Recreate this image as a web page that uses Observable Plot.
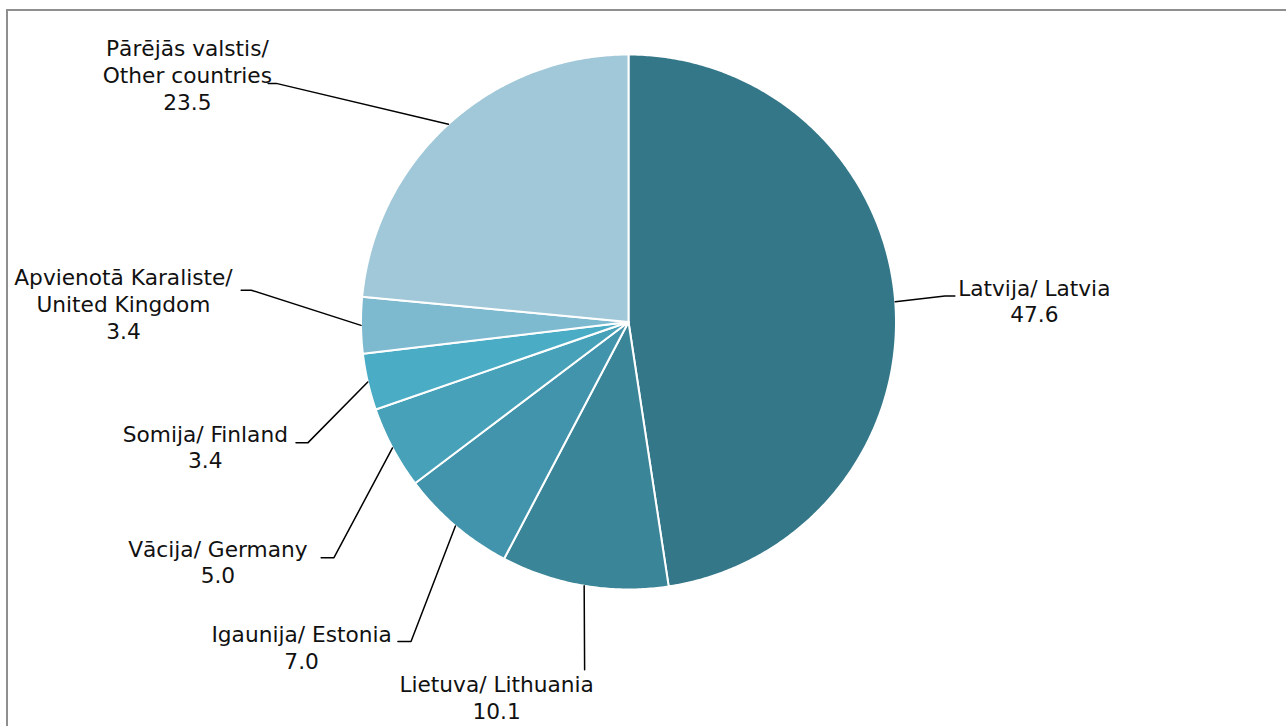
<!DOCTYPE html>
<html>
<head>
<meta charset="utf-8">
<script src="https://cdn.jsdelivr.net/npm/d3@7"></script>
<script src="https://cdn.jsdelivr.net/npm/@observablehq/plot@0.6"></script>
<style>
  html, body { margin: 0; padding: 0; background: #fff; overflow: hidden; }
  #wrap { position: relative; width: 1286px; height: 726px; }
  #frame { position: absolute; left: 6px; top: 9px; width: 1300px; height: 740px;
           border-left: 2px solid #8f8f8f; border-top: 2px solid #8f8f8f; }
  #chart { position: absolute; left: 0; top: 0; }
</style>
</head>
<body>
<div id="wrap"><div id="frame"></div><div id="chart"></div></div>
<script>
// ---- data ----
const categories = [
  "Latvija/ Latvia",
  "Lietuva/ Lithuania",
  "Igaunija/ Estonia",
  "Vācija/ Germany",
  "Somija/ Finland",
  "Apvienotā Karaliste/ United Kingdom",
  "Pārējās valstis/ Other countries"
];
const labelLines = [
  "Latvija/ Latvia",
  "Lietuva/ Lithuania",
  "Igaunija/ Estonia",
  "Vācija/ Germany",
  "Somija/ Finland",
  "Apvienotā Karaliste/\nUnited Kingdom",
  "Pārējās valstis/\nOther countries"
];
const values = [47.6, 10.1, 7.0, 5.0, 3.4, 3.4, 23.5];
const colors = ["#337789", "#3a8598", "#4194ab", "#47a2b9", "#4aacc5", "#7db9cf", "#a0c8d8"];

// ---- layout (label placement, in radius units; not data) ----
const R = 267.5, CX = 628, CY = 321.5, W = 1286, H = 726;
const labelLayout = [
  {elbow: [1.183, 0.097], end: 1.220, text: [1.517, 0.081]},
  {elbow: [-0.164, -1.300], end: -0.164, text: [-0.493, -1.400]},
  {elbow: [-0.813, -1.194], end: -0.862, text: [-1.222, -1.214]},
  {elbow: [-1.101, -0.881], end: -1.149, text: [-1.535, -0.895]},
  {elbow: [-1.198, -0.451], end: -1.243, text: [-1.582, -0.465]},
  {elbow: [-1.410, 0.119], end: -1.448, text: [-1.888, 0.070]},
  {elbow: [-1.317, 0.892], end: -1.347, text: [-1.649, 0.926]}
];

const total = d3.sum(values);
// angles clockwise from 12 o'clock
let acc = 0;
const slices = categories.map((c, i) => {
  const a0 = acc / total * 2 * Math.PI;
  acc += values[i];
  const a1 = acc / total * 2 * Math.PI;
  return {category: c, value: values[i], a0, a1, mid: (a0 + a1) / 2, i};
});

// polygon points for each wedge
const wedgePts = [];
for (const s of slices) {
  wedgePts.push({category: s.category, x: 0, y: 0});
  const n = Math.max(4, Math.ceil((s.a1 - s.a0) / (Math.PI / 360)));
  for (let k = 0; k <= n; k++) {
    const a = s.a0 + (s.a1 - s.a0) * k / n;
    wedgePts.push({category: s.category, x: Math.sin(a), y: Math.cos(a)});
  }
}

// leader lines
const leaderPts = [];
slices.forEach((s, i) => {
  const L = labelLayout[i];
  leaderPts.push({k: i, x: Math.sin(s.mid), y: Math.cos(s.mid)});
  leaderPts.push({k: i, x: L.elbow[0], y: L.elbow[1]});
  leaderPts.push({k: i, x: L.end, y: L.elbow[1]});
});

const labels = slices.map((s, i) => ({
  text: labelLines[i] + "\n" + values[i].toFixed(1),
  x: labelLayout[i].text[0],
  y: labelLayout[i].text[1]
}));

const chart = Plot.plot({
  width: W,
  height: H,
  margin: 0,
  style: {background: "transparent", overflow: "visible"},
  x: {domain: [-CX / R, (W - CX) / R], axis: null},
  y: {domain: [-(H - CY) / R, CY / R], axis: null},
  color: {domain: categories, range: colors},
  marks: [
    Plot.line(wedgePts, {
      x: "x", y: "y", z: "category", fill: "category",
      stroke: "white", strokeWidth: 2, strokeLinejoin: "round", curve: "linear-closed"
    }),
    Plot.line(leaderPts, {x: "x", y: "y", z: "k", stroke: "black", strokeWidth: 1.5}),
    Plot.text(labels, {
      x: "x", y: "y", text: "text", textAnchor: "middle", lineHeight: 1.24,
      fontSize: 21.7, fill: "#111", fontFamily: "DejaVu Sans, Verdana, sans-serif"
    })
  ]
});
document.getElementById("chart").appendChild(chart);
</script>
</body>
</html>
